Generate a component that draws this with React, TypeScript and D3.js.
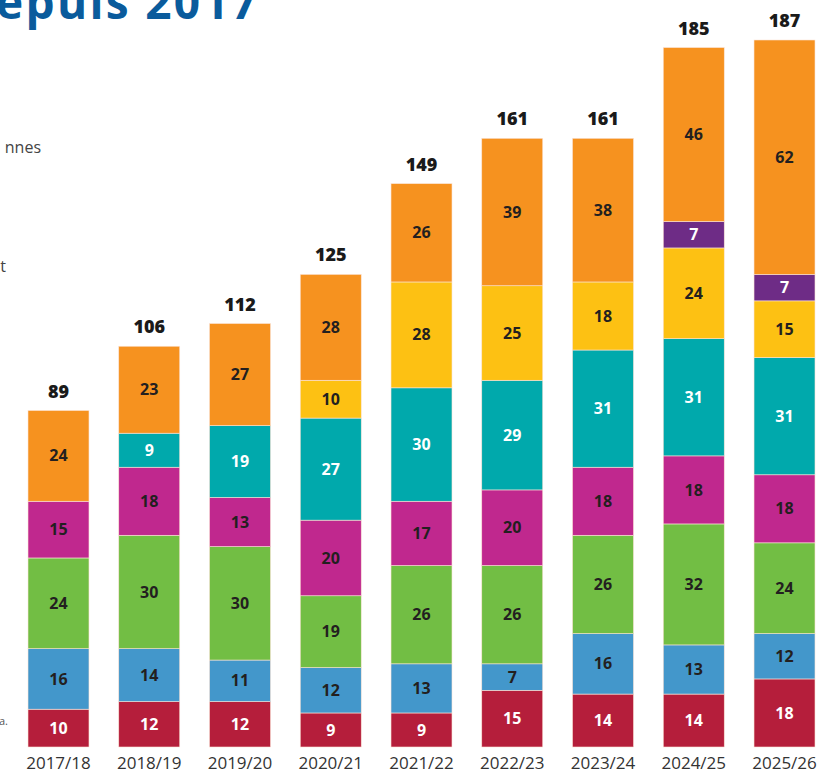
import React from "react";
import * as d3 from "d3";

const years = ["2017/18", "2018/19", "2019/20", "2020/21", "2021/22", "2022/23", "2023/24", "2024/25", "2025/26"];
const seriesKeys = ["red", "blue", "green", "magenta", "teal", "yellow", "purple", "orange"];
const red = [10, 12, 12, 9, 9, 15, 14, 14, 18];
const blue = [16, 14, 11, 12, 13, 7, 16, 13, 12];
const green = [24, 30, 30, 19, 26, 26, 26, 32, 24];
const magenta = [15, 18, 13, 20, 17, 20, 18, 18, 18];
const teal = [0, 9, 19, 27, 30, 29, 31, 31, 31];
const yellow = [0, 0, 0, 10, 28, 25, 18, 24, 15];
const purple = [0, 0, 0, 0, 0, 0, 0, 7, 7];
const orange = [24, 23, 27, 28, 26, 39, 38, 46, 62];
const totals = [89, 106, 112, 125, 149, 161, 161, 185, 187];

const colors: Record<string, string> = {
  red: "#B51E3B",
  blue: "#4397CB",
  green: "#72BE44",
  magenta: "#C0288E",
  teal: "#00A9AC",
  yellow: "#FDC113",
  purple: "#6E2C86",
  orange: "#F6921F",
};
const textColors: Record<string, string> = {
  red: "#fff",
  blue: "#231F20",
  green: "#231F20",
  magenta: "#231F20",
  teal: "#fff",
  yellow: "#231F20",
  purple: "#fff",
  orange: "#231F20",
};

const W = 829;
const H = 774;

export default function App() {
  const seriesData: Record<string, number[]> = { red, blue, green, magenta, teal, yellow, purple, orange };
  const table = years.map((y, i) => {
    const row: any = { year: y };
    seriesKeys.forEach((k) => (row[k] = seriesData[k][i]));
    return row;
  });
  const stack = d3.stack<any>().keys(seriesKeys)(table);

  const x = d3.scaleBand().domain(years).range([28, 815]).paddingInner(0.328).paddingOuter(0);
  const y = d3.scaleLinear().domain([0, 187]).range([747, 40]);
  const font = "'Open Sans', 'Noto Sans', sans-serif";

  return (
    <svg width={W} height={H} style={{ position: "absolute", left: 0, top: 0, background: "#fff" }}>
      <text x={-4} y={19} fill="#0A5B9C" fontFamily={font} fontWeight={700} fontSize={46} letterSpacing={2.3}>
        epuis 2017
      </text>
      <text x={41} y={153} textAnchor="end" fill="#444" fontFamily={font} fontSize={16}>nnes</text>
      <text x={6} y={272} textAnchor="end" fill="#444" fontFamily={font} fontSize={16}>t</text>
      <text x={8} y={725} textAnchor="end" fill="#555" fontFamily={font} fontSize={11}>a.</text>
      {stack.map((s) => (
        <g key={s.key}>
          {s.map((d, i) => {
            const v = d[1] - d[0];
            if (v <= 0) return null;
            const bx = x(years[i])!;
            const y0 = y(d[0]);
            const y1 = y(d[1]);
            return (
              <g key={i}>
                <rect x={bx} y={y1} width={x.bandwidth()} height={y0 - y1} fill={colors[s.key]} stroke="#fbe3d6" strokeWidth={0.6} />
                <text
                  x={bx + x.bandwidth() / 2}
                  y={(y0 + y1) / 2}
                  dy="0.35em"
                  textAnchor="middle"
                  fill={textColors[s.key]}
                  fontFamily={font}
                  fontWeight={700}
                  fontSize={16}
                >
                  {v}
                </text>
              </g>
            );
          })}
        </g>
      ))}
      {totals.map((t, i) => (
        <text
          key={i}
          x={x(years[i])! + x.bandwidth() / 2}
          y={y(t) - 13}
          textAnchor="middle"
          fill="#1a1a1a"
          fontFamily={font}
          fontWeight={800}
          fontSize={18}
        >
          {t}
        </text>
      ))}
      {years.map((yr) => (
        <text
          key={yr}
          x={x(yr)! + x.bandwidth() / 2}
          y={769}
          textAnchor="middle"
          fill="#333"
          fontFamily={font}
          fontSize={17}
        >
          {yr}
        </text>
      ))}
    </svg>
  );
}
